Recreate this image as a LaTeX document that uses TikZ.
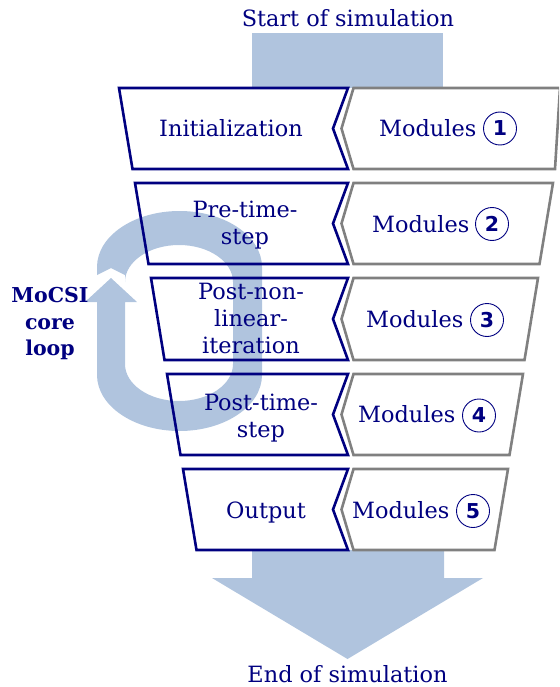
\documentclass[tikz,border=0pt]{standalone}
\usepackage{fontspec}
\setmainfont{DejaVu Serif}
\newfontfamily\digitfont{DejaVu Sans}
\definecolor{flowblue}{RGB}{176,196,222}
\definecolor{stagenavy}{RGB}{0,0,128}
\definecolor{modgray}{RGB}{128,128,128}

\begin{document}
\begin{tikzpicture}[x=1pt,y=-1pt,font=\fontsize{22.4}{27}\selectfont,text=stagenavy,
  stagebox/.style={draw=stagenavy,line width=2.6pt},
  modbox/.style={draw=modgray,line width=2.6pt},
  stagetext/.style={align=center,inner sep=0pt},
  modtext/.style={anchor=base west,inner sep=0pt},
  modnum/.style={circle,draw=stagenavy,line width=.9pt,minimum size=33pt,inner sep=0pt,font=\digitfont\bfseries\fontsize{20.5}{24}\selectfont}]
\useasboundingbox (0,0) rectangle (559,687);
\clip (0,0) rectangle (559,687);
\path[fill=flowblue] (97,275) -- (97,267) arc[start angle=180,end angle=360,x radius=82.5,y radius=56] -- (262,375) arc[start angle=0,end angle=180,x radius=82.5,y radius=56] -- (97,302) -- (85,302) -- (111,278) -- (137,302) -- (125,302) -- (125,364) arc[start angle=180,end angle=0,x radius=54,y radius=37] -- (233,282) arc[start angle=0,end angle=-180,x radius=54,y radius=37] -- (125,275) -- (111,268) -- cycle;
\path[fill=flowblue] (252,33) rectangle (443,88);
\path[fill=flowblue] (252,550) -- (444,550) -- (444,578) -- (483,578) -- (347.5,659) -- (212,578) -- (252,578) -- cycle;
\node[anchor=base] (start) at (348,27) {Start of simulation};
\node[anchor=base] (end) at (347.5,682) {End of simulation};
\node[align=center,inner sep=0pt,font=\bfseries\fontsize{20.5}{26.5}\selectfont] (coreloop) at (50,324) {MoCSI\\core\\loop};
\draw[stagebox] (119,88) -- (348,88) -- (333,128.5) -- (348,169) -- (132.5,169) -- cycle;
\node[stagetext,anchor=base] (init) at (231,137) {Initialization};
\draw[modbox] (353.5,88) -- (560,88) -- (555,169) -- (353.5,169) -- (341.5,128.5) -- cycle;
\node[modtext] (mod1) at (379,137) {Modules};
\node[modnum] (num1) at (500,128.5) {1};
\draw[stagebox] (135,183) -- (348,183) -- (333,223.5) -- (348,264) -- (148.5,264) -- cycle;
\node[stagetext] (pretime) at (245,225) {Pre-time-\\step};
\draw[modbox] (353.5,183) -- (553,183) -- (539.5,264) -- (353.5,264) -- (341.5,223.5) -- cycle;
\node[modtext] (mod2) at (372,232.5) {Modules};
\node[modnum] (num2) at (492,224) {2};
\draw[stagebox] (151,278) -- (348,278) -- (333,319) -- (348,360) -- (164.5,360) -- cycle;
\node[stagetext] (postnonlin) at (251,318.5) {Post-non-\\linear-\\iteration};
\draw[modbox] (353.5,278) -- (538,278) -- (524.5,360) -- (353.5,360) -- (341.5,319) -- cycle;
\node[modtext] (mod3) at (366,327.5) {Modules};
\node[modnum] (num3) at (487,320) {3};
\draw[stagebox] (167,374) -- (348,374) -- (333,414.5) -- (348,455) -- (180.5,455) -- cycle;
\node[stagetext] (posttime) at (261,418) {Post-time-\\step};
\draw[modbox] (353.5,374) -- (523,374) -- (509.5,455) -- (353.5,455) -- (341.5,414.5) -- cycle;
\node[modtext] (mod4) at (358,422.5) {Modules};
\node[modnum] (num4) at (479,415.5) {4};
\draw[stagebox] (183,469) -- (348,469) -- (333,509.5) -- (348,550) -- (196.5,550) -- cycle;
\node[stagetext,anchor=base] (output) at (266,518) {Output};
\draw[modbox] (353.5,469) -- (508,469) -- (494.5,550) -- (353.5,550) -- (341.5,509.5) -- cycle;
\node[modtext] (mod5) at (352,518) {Modules};
\node[modnum] (num5) at (473,511) {5};
\end{tikzpicture}
\end{document}
